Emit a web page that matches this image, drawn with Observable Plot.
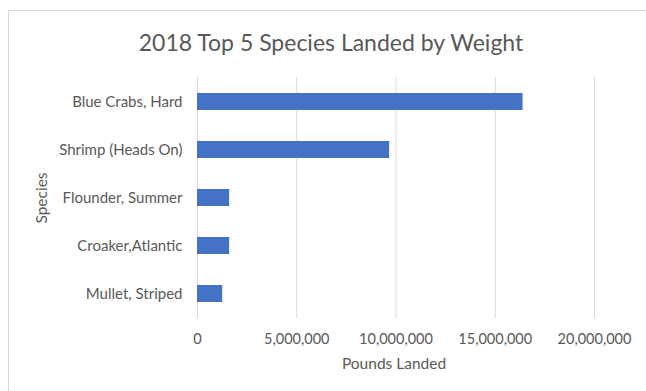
<!DOCTYPE html>
<html>
<head>
<meta charset="utf-8">
<script src="https://cdn.jsdelivr.net/npm/d3@7"></script>
<script src="https://cdn.jsdelivr.net/npm/@observablehq/plot@0.6"></script>
<style>
  html, body { margin: 0; padding: 0; background: #fff; }
  #wrap { position: relative; width: 646px; height: 391px; overflow: hidden; }
  #border { position: absolute; left: 8px; top: 10px; width: 700px; height: 500px; border: 1px solid #d9d9d9; box-sizing: border-box; }
  #chart { position: absolute; left: 0; top: 0; }
</style>
</head>
<body>
<div id="wrap"><div id="border"></div><div id="chart"></div></div>
<script>
const title = "2018 Top 5 Species Landed by Weight";
const species = ["Blue Crabs, Hard", "Shrimp (Heads On)", "Flounder, Summer", "Croaker,Atlantic", "Mullet, Striped"];
const pounds = [16400000, 9680000, 1620000, 1620000, 1270000];
const xTicks = [0, 5000000, 10000000, 15000000, 20000000];
const xLabel = "Pounds Landed";
const yLabel = "Species";

const data = species.map((s, i) => ({species: s, pounds: pounds[i]}));
const font = "Lato, 'Open Sans', sans-serif";
const textColor = "#595959";

const chart = Plot.plot({
  width: 646,
  height: 391,
  marginLeft: 197,
  marginRight: 52,
  marginTop: 77,
  marginBottom: 73,
  style: {fontFamily: font, fontSize: "14px", color: textColor, background: "transparent"},
  x: {domain: [0, 20000000]},
  y: {domain: species, paddingInner: 0.656, paddingOuter: 0.328},
  marks: [
    Plot.gridX(xTicks, {stroke: "#d9d9d9", strokeOpacity: 1, strokeWidth: 1}),
    Plot.barX(data, {x: "pounds", y: "species", fill: "#4472C4"}),
    Plot.axisX(xTicks, {tickSize: 0, tickPadding: 15, tickFormat: d3.format(","), label: null, fill: textColor, fontSize: 14.5}),
    Plot.axisY({tickSize: 0, tickPadding: 15, label: null, fill: textColor, fontSize: 15}),
    Plot.text([xLabel], {frameAnchor: "bottom", textAnchor: "middle", lineAnchor: "middle", dx: -2, dy: 46, fill: textColor, fontSize: 15.5}),
    Plot.text([yLabel], {frameAnchor: "left", textAnchor: "middle", lineAnchor: "middle", dx: -155, rotate: -90, fill: textColor, fontSize: 15.5}),
    Plot.text([title], {frameAnchor: "top", textAnchor: "middle", lineAnchor: "middle", dx: -65, dy: -34, fill: textColor, fontSize: 23})
  ]
});
document.getElementById("chart").appendChild(chart);
</script>
</body>
</html>
